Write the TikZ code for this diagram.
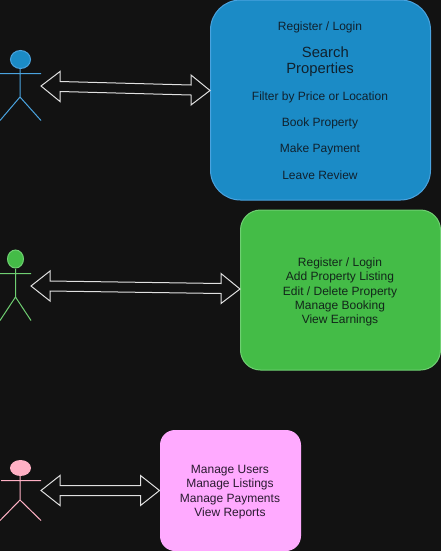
\documentclass[tikz,border=0pt]{standalone}
\usepackage{fontspec}
\setmainfont{Liberation Sans}
\usetikzlibrary{calc,shapes.geometric}
\definecolor{bgc}{HTML}{121212}
\definecolor{bluef}{HTML}{1B8BC6}
\definecolor{blued}{HTML}{4AA3DF}
\definecolor{greenf}{HTML}{44BC47}
\definecolor{greend}{HTML}{6FCF72}
\definecolor{pinkf}{HTML}{FFAAFF}
\definecolor{headp}{HTML}{FFB0C4}
\definecolor{txt}{HTML}{10212E}
\definecolor{txtg}{HTML}{12261A}
\definecolor{txtp}{HTML}{2A1A30}
\tikzset{x=0.75pt,y=-0.75pt,
 panel/.style={line width=0.75pt,inner sep=0pt},
 arrowshape/.style={draw=white!88!black,line width=0.75pt,line join=miter,fill=bgc},
 lbl/.style={font=\fontsize{9}{11}\selectfont,text=txt,align=center,inner sep=0pt},
 lblbig/.style={font=\fontsize{11.1}{12}\selectfont,text=txt,align=center,inner sep=0pt},
 lblstack/.style={font=\fontsize{9}{10.7}\selectfont,align=center,inner sep=0pt},
 limb/.style={draw=#1,line width=0.75pt},
 head/.style={ellipse,inner sep=0pt,line width=0.75pt}}
\begin{document}
\begin{tikzpicture}
\useasboundingbox (0,0) rectangle (441,551);
\fill[bgc] (0,0) rectangle (441,551);
% actor 1
\draw[limb=blued] (20,69) -- (20,97) (0,73.5) -- (41,73.5) (20,97) -- (0,120.5) (20,97) -- (41,120.5);
\node[head,draw=blued,fill=bluef,minimum width=15pt,minimum height=13.5pt] (h1) at (20.5,59.5) {};
% actor 2
\draw[limb=greend] (15.5,269) -- (15.5,297) (0,273.5) -- (31,273.5) (15.5,297) -- (0,320.5) (15.5,297) -- (31,320.5);
\node[head,draw=greend,fill=greenf,minimum width=12pt,minimum height=13.5pt] (h2) at (15.5,259) {};
% actor 3
\draw[limb=headp] (20,476) -- (20,500) (1,480.5) -- (41,480.5) (20,500) -- (0,520.5) (20,500) -- (41,520.5);
\node[head,fill=headp,minimum width=15.75pt,minimum height=12pt] (h3) at (20.5,468) {};
% panels
\node[panel,draw=blued,fill=bluef,rounded corners=22.5pt,minimum width=165pt,minimum height=150pt] (p1) at (320.5,100) {};
\node[panel,draw=greend,fill=greenf,rounded corners=15pt,minimum width=150pt,minimum height=120pt] (p2) at (340.5,290) {};
\node[panel,fill=pinkf,rounded corners=11.25pt,minimum width=105.75pt,minimum height=90.75pt] (p3) at (230.5,490.5) {};
% arrow ends
\coordinate (a1) at (41,86);
\coordinate (b1) at ($(p1.west)+(0,-9.5)$);
\coordinate (a2) at (31,286);
\coordinate (b2) at ($(p2.west)+(0,-1)$);
\coordinate (a3) at (41,490.5);
\coordinate (b3) at (p3.west);
% arrows
\draw[arrowshape] (a1) -- ++(19,-14.5) -- ++(0,10) -- ($(b1)+(-19,-5.5)$) -- ++(0,-10) -- (b1) -- ++(-19,14.5) -- ++(0,-10) -- ($(a1)+(19,5.5)$) -- ++(0,10) -- cycle;
\draw[arrowshape] (a2) -- ++(19,-15) -- ++(0,10) -- ($(b2)+(-19,-5.5)$) -- ++(0,-10) -- (b2) -- ++(-19,14.5) -- ++(0,-10) -- ($(a2)+(19,5)$) -- ++(0,10) -- cycle;
\draw[arrowshape] (a3) -- ++(19,-15) -- ++(0,10) -- ($(b3)+(-19,-5)$) -- ++(0,-10) -- (b3) -- ++(-19,15) -- ++(0,-10) -- ($(a3)+(19,5)$) -- ++(0,10) -- cycle;
% labels
\node[lbl] (t1) at (320,27.5) {Register / Login};
\node[lblbig] (t2) at (320,62) {\hspace*{8pt}Search\\Properties};
\node[lbl] (t3) at (320,97.5) {Filter by Price or Location};
\node[lbl] (t4) at (320,123.5) {Book Property};
\node[lbl] (t5) at (320,149.5) {Make Payment};
\node[lbl] (t6) at (320,175) {Leave Review};
\node[lblstack,text=txtg] (t7) at (340,292) {Register / Login\\Add Property Listing\\Edit / Delete Property\\Manage Booking\\View Earnings};
\node[lblstack,text=txtp] (t8) at (230,492) {Manage Users\\Manage Listings\\Manage Payments\\View Reports};
\end{tikzpicture}
\end{document}
